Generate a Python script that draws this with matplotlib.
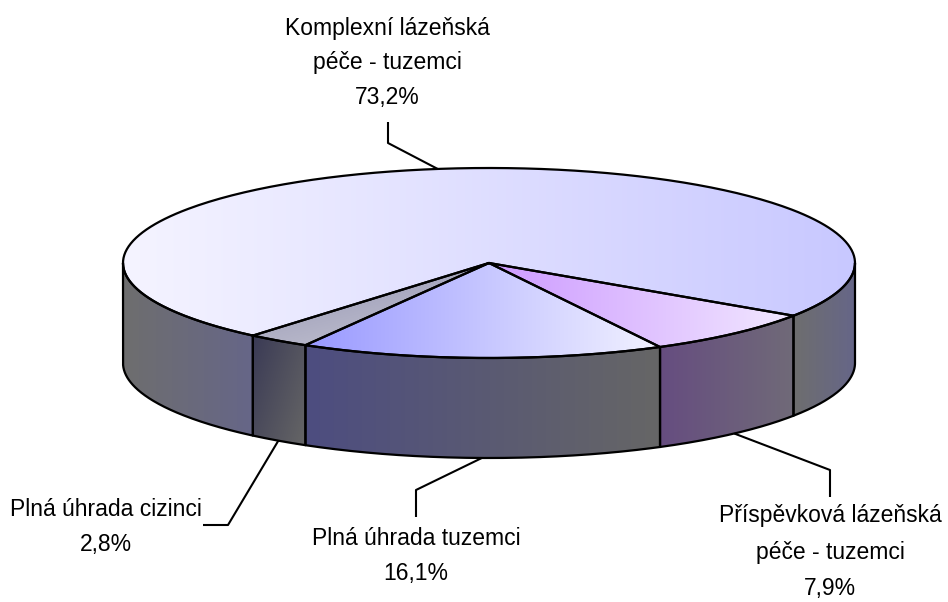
import numpy as np
import matplotlib
matplotlib.use("Agg")
import matplotlib.pyplot as plt
from matplotlib.path import Path
from matplotlib.patches import PathPatch
from matplotlib.colors import to_rgb

plt.rcParams['font.family'] = ['Liberation Sans', 'DejaVu Sans']

# values in drawing order, clockwise from the right hand side
labels = ["Příspěvková lázeňská\npéče - tuzemci\n7,9%",
          "Plná úhrada tuzemci\n16,1%",
          "Plná úhrada cizinci\n2,8%",
          "Komplexní lázeňská\npéče - tuzemci\n73,2%"]
values = [7.9, 16.1, 2.8, 73.2]

top_colors = [("#CC99FF", "#F2E8FF"), ("#9999FF", "#F2F2FF"),
              ("#9090B0", "#C8C8D4"), ("#F5F4FF", "#C8C8FF")]
side_colors = [("#664D80", "#706A78"), ("#4D4D80", "#666666"),
               ("#3A3A55", "#666666"), ("#6E6E6E", "#666688")]

cx, cy, rx, ry = 489, 263, 366, 95
depth = 100
start = 33.7

fig = plt.figure(figsize=(9.48, 6.02), dpi=100)
ax = fig.add_axes([0, 0, 1, 1])
ax.set_xlim(0, 948)
ax.set_ylim(602, 0)
ax.axis("off")


def rim(t, dy=0):
    t = np.radians(t)
    return cx + rx*np.cos(t), cy + ry*np.sin(t) + dy


def grad_fill(verts, c0, c1, x0=None, x1=None, diag=0.0):
    verts = np.array(verts)
    patch = PathPatch(Path(np.vstack([verts, verts[0]]), closed=True),
                      fc="none", ec="none")
    ax.add_patch(patch)
    xa, xb = verts[:, 0].min(), verts[:, 0].max()
    ya, yb = verts[:, 1].min(), verts[:, 1].max()
    if x0 is None:
        x0, x1 = xa, xb
    xx, yy = np.meshgrid(np.linspace(xa, xb, 400), np.linspace(ya, yb, 200))
    f = (xx - x0)/(x1 - x0)
    if diag:
        f = (1-diag)*f + diag*(yy - ya)/(yb - ya)
    f = np.clip(f, 0, 1)[..., None]
    img = (1-f)*np.array(to_rgb(c0)) + f*np.array(to_rgb(c1))
    im = ax.imshow(img, extent=(xa, xb, yb, ya), aspect="auto", zorder=1, interpolation="bilinear")
    im.set_clip_path(patch)
    ax.set_xlim(0, 948)
    ax.set_ylim(602, 0)


line = dict(color="black", lw=1.6, solid_capstyle="round", solid_joinstyle="round", zorder=3)
edges = start + np.concatenate([[0], np.cumsum(values)*3.6])
# the big slice runs past 360, so its side shows on both ends
for i in range(len(values)):
    a, b = edges[i], edges[i+1]
    ts = np.linspace(a, b, 300)
    x, y = rim(ts)
    wedge = [(cx, cy)] + list(zip(x, y))
    if i == 3:
        grad_fill(wedge, *top_colors[i], x0=cx-rx, x1=cx+rx)
    elif i == 2:
        grad_fill(wedge, *top_colors[i], diag=0.6)
    else:
        grad_fill(wedge, *top_colors[i])
    ax.plot(*zip(*(wedge + [(cx, cy)])), **line)

    for lo, hi in [(a, b), (a-360, b-360)]:
        lo, hi = max(lo, 0), min(hi, 180)
        if hi <= lo:
            continue
        ts = np.linspace(lo, hi, 200)
        xt, yt = rim(ts)
        xb, yb = rim(ts, depth)
        side = list(zip(xt, yt)) + list(zip(xb[::-1], yb[::-1]))
        if i == 2:
            grad_fill(side, *side_colors[i], diag=0.4)
        else:
            grad_fill(side, *side_colors[i])
        ax.plot(*zip(*(side + side[:1])), **line)

# leader lines start on the outer edge at the middle of each slice
mids = (edges[:-1] + edges[1:])/2
anchors = [rim(mids[0], depth), rim(mids[1], depth), rim(mids[2], depth), rim(mids[3])]
elbows = [[(830, 470), (830, 497)], [(416, 490), (416, 517)],
          [(228, 525), (203, 525)], [(388, 143), (388, 122)]]
thin = dict(color="black", lw=1.5, zorder=2, solid_capstyle="butt")
for an, el in zip(anchors, elbows):
    pts = [an] + el
    ax.plot(*zip(*pts), **thin)

text_pos = [(830, 552), (416, 556), (106, 527), (387, 63)]
spacing = [1.76, 1.62, 1.62, 1.62]
for lab, (tx, ty), sp in zip(labels, text_pos, spacing):
    ax.text(tx, ty, lab, ha="center", va="center", fontsize=16.5, linespacing=sp,
            color="black", zorder=4)

fig.savefig("out.png", dpi=100)
